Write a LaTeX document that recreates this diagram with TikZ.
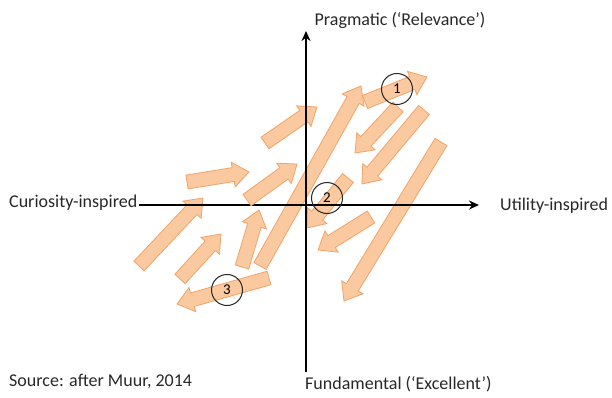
\documentclass[tikz,border=0pt]{standalone}
\usepackage{fontspec}
\setmainfont{Carlito}
\usetikzlibrary{calc, arrows.meta}
\definecolor{peach}{RGB}{251,201,160}
\definecolor{peachline}{RGB}{242,163,104}
\definecolor{labelgray}{RGB}{40,40,40}
\tikzstyle{blockarrow} = [draw=peachline, fill=peach, line width=0.8pt, line join=miter]
\tikzstyle{axisline} = [line width=1.6pt, -{Stealth[length=10pt, width=9pt]}]
\tikzstyle{axislabel} = [font=\fontsize{18}{21}\selectfont, text=labelgray, inner sep=0pt, anchor=base west]
\tikzstyle{stagemark} = [circle, draw=black!85, line width=1pt, minimum size=31pt, inner sep=0pt, font=\fontsize{15}{17}\selectfont]
% block arrow from tail #1 to tip #2
\newcommand{\peacharrow}[2]{%
  \draw[blockarrow] let \p1=#1, \p2=#2, \n1={atan2(\y2-\y1,\x2-\x1)}, \n2={veclen(\x2-\x1,\y2-\y1)} in
    [shift={(\p1)}, rotate=\n1]
    (0pt,-7pt) -- ({(\n2-16)*1pt},-7pt) -- ({(\n2-16)*1pt},-12.5pt) -- ({\n2*1pt},0pt)
    -- ({(\n2-16)*1pt},12.5pt) -- ({(\n2-16)*1pt},7pt) -- (0pt,7pt) -- cycle;}

\begin{document}
\begin{tikzpicture}[x=1pt, y=-1pt]
  \fill[white] (0,0) rectangle (612,397);
  \useasboundingbox (0,0) rectangle (612,397);

  % left cluster
  \peacharrow{(139,266)}{(203,198)}
  \peacharrow{(187,182)}{(249,172)}
  \peacharrow{(265,143)}{(317,107)}
  \peacharrow{(180,279)}{(221,234)}
  \peacharrow{(242,267)}{(259,210)}
  \peacharrow{(260,266)}{(361,86)}
  \peacharrow{(269,278)}{(177,304)}

  % right cluster
  \peacharrow{(365,102)}{(427,77)}
  \peacharrow{(398,107)}{(355,153)}
  \peacharrow{(424,110)}{(362,184)}
  \peacharrow{(441,142)}{(344,301)}
  \peacharrow{(348,178)}{(307,228)}
  \peacharrow{(371,217)}{(318,250)}

  % axes
  \coordinate (west) at (139,205);
  \coordinate (east) at (479,205);
  \coordinate (south) at (306,372);
  \coordinate (north) at (306,31);
  \draw[axisline] (west) -- (east);
  \draw[axisline] (south) -- (north);

  \peacharrow{(247,200)}{(297,164)}

  \node[stagemark] (one) at (397,89) {1};
  \node[stagemark] (two) at (327,198) {2};
  \node[stagemark] (three) at (227,290) {3};

  \node[axislabel, anchor=base] (prag) at (400,25) {Pragmatic (‘Relevance’)};
  \node[axislabel] (curio) at (9,207) {Curiosity-inspired};
  \node[axislabel] (util) at (500,210) {Utility-inspired};
  \node[axislabel] (fund) at (305,389) {Fundamental (‘Excellent’)};
  \node[axislabel] (source) at (9,386) {Source: after Muur, 2014};
\end{tikzpicture}
\end{document}
